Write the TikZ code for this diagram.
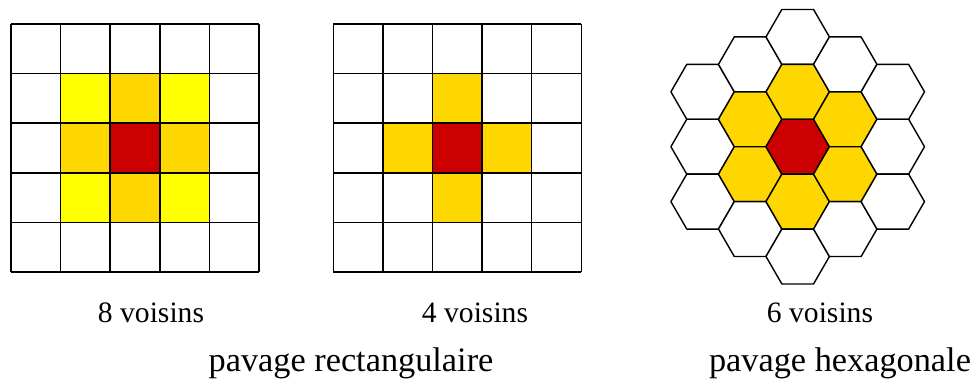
\documentclass[tikz,border=0pt]{standalone}
\usepackage{fontspec}
\setmainfont{Liberation Serif}
\newfontfamily\timesfont{Liberation Serif}
\definecolor{cellyellow}{RGB}{255,255,0}
\definecolor{cellgold}{RGB}{255,215,0}
\definecolor{cellred}{RGB}{204,0,0}
\tikzset{
  gridline/.style={draw=black, line width=1.5pt},
  hexcell/.style={draw=black, line width=1.4pt, line join=round},
  lbl/.style={font=\timesfont\fontsize{29.6}{32}\selectfont, anchor=base, inner sep=0pt},
  ttl/.style={font=\timesfont\fontsize{34.3}{38}\selectfont, anchor=base, inner sep=0pt}
}
\begin{document}
\begin{tikzpicture}[x=1pt,y=-1pt]
\useasboundingbox (0,0) rectangle (974,381);
\def\cs{49.6}
% ---- left grid (8 neighbours)
\begin{scope}[shift={(11,24)}]
  \fill[cellyellow] (\cs,\cs) rectangle (4*\cs,4*\cs);
  \fill[cellgold] (2*\cs,\cs) rectangle (3*\cs,4*\cs);
  \fill[cellgold] (\cs,2*\cs) rectangle (4*\cs,3*\cs);
  \fill[cellred] (2*\cs,2*\cs) rectangle (3*\cs,3*\cs);
  \foreach \k in {0,...,5} {
    \draw[gridline] (\k*\cs,0) -- (\k*\cs,5*\cs);
    \draw[gridline] (0,\k*\cs) -- (5*\cs,\k*\cs);
  }
\end{scope}
% ---- middle grid (4 neighbours)
\begin{scope}[shift={(333.3,24)}]
  \fill[cellgold] (2*\cs,\cs) rectangle (3*\cs,4*\cs);
  \fill[cellgold] (\cs,2*\cs) rectangle (4*\cs,3*\cs);
  \fill[cellred] (2*\cs,2*\cs) rectangle (3*\cs,3*\cs);
  \foreach \k in {0,...,5} {
    \draw[gridline] (\k*\cs,0) -- (\k*\cs,5*\cs);
    \draw[gridline] (0,\k*\cs) -- (5*\cs,\k*\cs);
  }
\end{scope}
% ---- hexagonal tiling
\def\hR{31.7}
\def\hH{54.9}
\def\hcx{797.7}
\def\hcy{146.7}
\foreach \q/\r/\col in {
  -2/0/white,-2/1/white,-2/2/white,
  -1/-1/white,-1/0/cellgold,-1/1/cellgold,-1/2/white,
  0/-2/white,0/-1/cellgold,0/0/cellred,0/1/cellgold,0/2/white,
  1/-2/white,1/-1/cellgold,1/0/cellgold,1/1/white,
  2/-2/white,2/-1/white,2/0/white} {
  \pgfmathsetmacro{\hx}{\hcx+1.5*\hR*\q}
  \pgfmathsetmacro{\hy}{\hcy+\hH*(\r+\q/2)}
  \draw[hexcell, fill=\col]
    (\hx+\hR,\hy) -- (\hx+\hR/2,\hy+\hH/2) -- (\hx-\hR/2,\hy+\hH/2)
    -- (\hx-\hR,\hy) -- (\hx-\hR/2,\hy-\hH/2) -- (\hx+\hR/2,\hy-\hH/2) -- cycle;
}
% ---- labels
\node[lbl] (n8) at (151,322) {8 voisins};
\node[lbl] (n4) at (475,322) {4 voisins};
\node[lbl] (n6) at (820,322) {6 voisins};
\node[ttl] (prect) at (351,371) {pavage rectangulaire};
\node[ttl] (phex) at (840,371) {pavage hexagonale};
\end{tikzpicture}
\end{document}
